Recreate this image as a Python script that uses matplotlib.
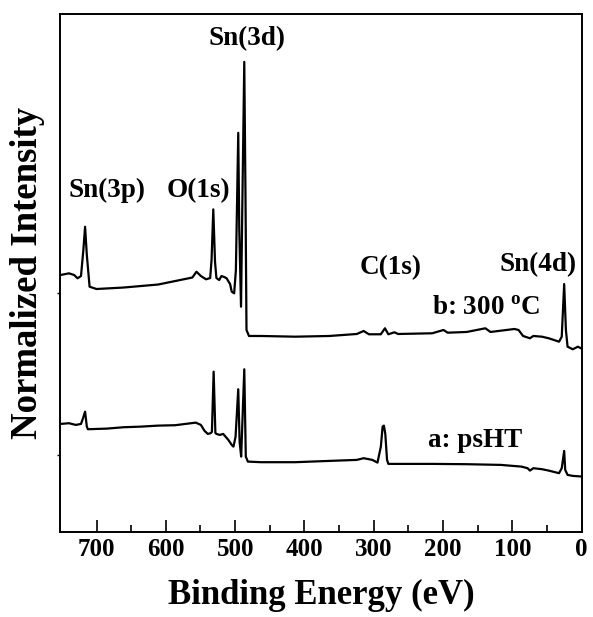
import numpy as np
import matplotlib
matplotlib.use('Agg')
import matplotlib.pyplot as plt

plt.rcParams['font.family'] = ['Liberation Serif', 'DejaVu Serif']
plt.rcParams['font.weight'] = 'bold'
plt.rcParams['mathtext.fontset'] = 'custom'
plt.rcParams['mathtext.rm'] = 'Liberation Serif:bold'
plt.rcParams['mathtext.bf'] = 'Liberation Serif:bold'

# spectrum b: 300 C  (binding energy eV, intensity a.u.)
be_b = [752, 739.7, 732.3, 727.4, 722.4, 719, 716.5, 714, 710, 700, 660.6, 611, 561.7,
        555.8, 549.4, 542, 536, 534, 531.5, 529, 527, 523, 519.7, 515.7, 512.3, 507.3,
        504.9, 501.4, 498.9, 495.5, 494, 491.5, 489.5, 486.8, 485, 483.6, 480,
        462.8, 413.4, 363.9, 324.4, 314.5, 307, 289.8, 283.8, 278.9, 270, 265, 215.6,
        199.3, 193.3, 166, 138.9, 131.5, 116.7, 96.9, 91, 84.5, 74.6, 69.7, 57.3, 47.5,
        32.6, 28.7, 25.2, 22.7, 20.3, 12.8, 5.4, -1]
int_b = [257, 258.7, 257, 253.7, 256, 282, 305.3, 277, 245.3, 243, 244.5, 247.5, 254.5,
         260.3, 256, 252.7, 254, 272, 322.7, 270, 254, 252, 256, 255, 253.7, 248,
         240.3, 238.7, 262, 399.3, 302, 225.3, 332, 470.3, 332, 202, 196,
         196, 195.3, 196, 198, 201, 197.7, 197.7, 203.7, 197.7, 199.7, 198, 198.7,
         202, 199.3, 200, 203.7, 200, 201.3, 203, 202, 196, 193.7, 196, 195.3, 193.7,
         190.3, 195.3, 248, 202, 185.3, 182.7, 185.3, 183]

# spectrum a: psHT
be_a = [752, 739.7, 729.9, 722.4, 719.5, 716.5, 714, 712.5, 685.3, 660.6, 636, 611.2,
        586.5, 556.8, 549.4, 544.4, 539.5, 535.5, 533.5, 531, 528.5, 527, 522.2, 517.2,
        509.8, 504.9, 502.4, 499.4, 495.5, 493.5, 491.3, 489.5, 486.8, 484.6, 481.6,
        462.8, 413.4, 364, 324.4, 314.5, 302, 294.6, 289.7, 287.2, 285.3, 283.3, 280.8,
        278.9, 240.3, 215.6, 166, 116.7, 86.9, 78, 74.6, 69.7, 57.3, 47.5, 32.6, 28.7,
        25.2, 23.7, 20.3, 12.8, -1]
int_a = [108, 108.7, 107, 108, 113.7, 120.3, 105.3, 102.7, 103.3, 104.7, 105.3, 106.3,
         106.7, 109.3, 107, 101.3, 98, 98.7, 100, 160.3, 99, 98, 97, 98,
         92, 87, 85.3, 95, 142.7, 90, 75.3, 110, 162.7, 75.3, 70.3,
         69.7, 69.7, 71, 72, 73.7, 72, 69.3, 85.3, 105.3, 106.3, 98, 72,
         68, 68, 68, 67.7, 67, 65.3, 63.7, 61.3, 63.7, 62.7, 61.3, 58.7, 63.7,
         81, 62, 57, 56, 55.3]

peak_names = ['Sn(3p)', 'O(1s)', 'Sn(3d)', 'C(1s)', 'Sn(4d)']
peak_label_be = [685.3, 553.3, 482.6, 274.9, 62.3]
peak_label_int = [335.3, 335.3, 487, 258, 261]

fig = plt.figure(figsize=(5.93, 6.17), dpi=100)
ax = fig.add_axes([0.102, 0.138, 0.88, 0.839])

ax.plot(be_b, int_b, color='black', lw=1.6)
ax.plot(be_a, int_a, color='black', lw=1.6)

for name, x, y in zip(peak_names, peak_label_be, peak_label_int):
    ax.text(x, y, name, ha='center', va='baseline', fontsize=19.5, fontweight='bold')

ax.text(137.9, 217, r'b: 300 $^{\rm o}$C', ha='center', va='baseline', fontsize=19.5, fontweight='bold')
ax.text(153.8, 85.3, 'a: psHT', ha='center', va='baseline', fontsize=19.5, fontweight='bold')

ax.set_xlim(752, -1)
ax.set_ylim(0, 518)
ax.set_xticks(np.arange(0, 701, 100))
ax.set_xticks(np.arange(50, 701, 100), minor=True)
ax.set_yticks([77, 239])
ax.set_yticklabels([])
ax.tick_params(axis='x', which='major', direction='in', length=8.6, width=1.2,
               labelsize=18, pad=4.5, top=False)
ax.tick_params(axis='x', which='minor', direction='in', length=5, width=1.2, top=False)
ax.tick_params(axis='y', which='major', direction='out', length=2.5, width=1.0, right=False)
for lab in ax.get_xticklabels():
    lab.set_fontweight('bold')
for sp in ax.spines.values():
    sp.set_linewidth(1.4)

ax.set_xlabel('Binding Energy (eV)', fontsize=25, fontweight='bold', labelpad=13)
ax.set_ylabel('Normalized Intensity', fontsize=26.5, fontweight='bold')
ax.yaxis.set_label_coords(-0.03, 0.5)

fig.savefig('out.png', dpi=100)
